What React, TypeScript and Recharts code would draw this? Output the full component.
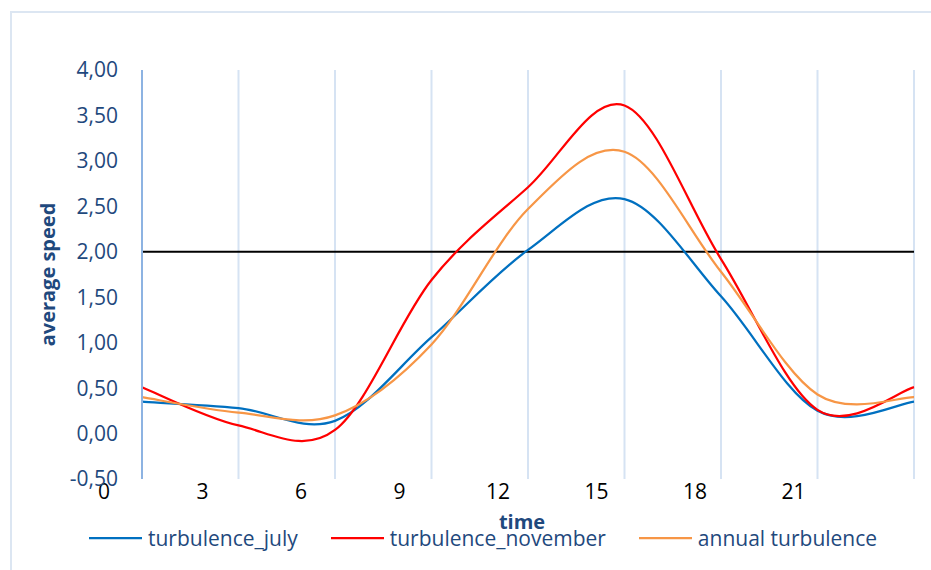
import {
  CartesianGrid,
  Legend,
  Line,
  LineChart,
  ReferenceLine,
  XAxis,
  YAxis
} from 'recharts'

// hours of the day, one reading every 3 hours (24 closes the cycle)
const HOURS = [0, 3, 6, 9, 12, 15, 18, 21, 24]
const TURBULENCE_JULY = [0.35, 0.28, 0.14, 1.06, 2.02, 2.58, 1.51, 0.25, 0.35]
const TURBULENCE_NOVEMBER = [0.51, 0.09, 0.04, 1.69, 2.71, 3.61, 1.92, 0.26, 0.51]
const ANNUAL_TURBULENCE = [0.4, 0.23, 0.2, 0.98, 2.47, 3.1, 1.78, 0.43, 0.4]

const X_TICKS = [0, 3, 6, 9, 12, 15, 18, 21, 24]
const Y_TICKS = [-0.5, 0, 0.5, 1, 1.5, 2, 2.5, 3, 3.5, 4]
const THRESHOLD = 2

const SERIES = [
  { key: 'july', name: 'turbulence_july', color: '#0070c0' },
  { key: 'november', name: 'turbulence_november', color: '#ff0000' },
  { key: 'annual', name: 'annual turbulence', color: '#f79646' }
]

const data = HOURS.map((hour, i) => ({
  hour,
  july: TURBULENCE_JULY[i],
  november: TURBULENCE_NOVEMBER[i],
  annual: ANNUAL_TURBULENCE[i]
}))

const FONT = '"Open Sans", sans-serif'
const NAVY = '#1f497d'

// Excel-style smoothed line (Catmull-Rom through every point)
const excelSmooth = (context: any) => {
  let pts: number[][] = []
  return {
    areaStart() {},
    areaEnd() {},
    lineStart() {
      pts = []
    },
    point(x: number, y: number) {
      pts.push([+x, +y])
    },
    lineEnd() {
      if (!pts.length) return
      context.moveTo(pts[0][0], pts[0][1])
      for (let i = 0; i < pts.length - 1; i++) {
        const p0 = pts[Math.max(i - 1, 0)]
        const p1 = pts[i]
        const p2 = pts[i + 1]
        const p3 = pts[Math.min(i + 2, pts.length - 1)]
        context.bezierCurveTo(
          p1[0] + (p2[0] - p0[0]) / 6,
          p1[1] + (p2[1] - p0[1]) / 6,
          p2[0] - (p3[0] - p1[0]) / 6,
          p2[1] - (p3[1] - p1[1]) / 6,
          p2[0],
          p2[1]
        )
      }
    }
  }
}

const HourTick = ({ x, y, payload, index }: any) => {
  if (payload.value === 24) return <g />
  return (
    <text
      x={x - 38 + 2 * index}
      y={y + 12}
      textAnchor="middle"
      dominantBaseline="central"
      fill="#000"
      fontSize={21}
      fontFamily={FONT}
    >
      {payload.value}
    </text>
  )
}

const LegendContent = () => (
  <div style={{ display: 'flex', alignItems: 'center', height: 36, fontFamily: FONT }}>
    {SERIES.map((s, i) => (
      <div key={s.key} style={{ display: 'flex', alignItems: 'center', marginRight: i < 2 ? 33 : 0 }}>
        <svg width={53} height={6} style={{ marginRight: 6 }}>
          <line x1={0} y1={3} x2={53} y2={3} stroke={s.color} strokeWidth={2.25} />
        </svg>
        <span style={{ color: NAVY, fontSize: 21, lineHeight: '36px' }}>{s.name}</span>
      </div>
    ))}
  </div>
)

export default function App() {
  return (
    <div style={{ position: 'absolute', left: 0, top: 0, width: 931, height: 570, overflow: 'hidden', background: '#fff' }}>
      <div
        style={{
          position: 'absolute',
          left: 10,
          top: 11,
          width: 1000,
          height: 700,
          border: '2px solid #dce6f2'
        }}
      />
      <div style={{ position: 'absolute', left: 0, top: 0 }}>
        <LineChart width={931} height={570} data={data} margin={{ top: 70, right: 17, left: 0, bottom: 14 }}>
          <CartesianGrid horizontal={false} vertical stroke="#d6e3f3" strokeWidth={2} />
          <XAxis
            dataKey="hour"
            type="number"
            domain={[0, 24]}
            ticks={X_TICKS}
            interval={0}
            height={41}
            axisLine={false}
            tickLine={false}
            tickSize={0}
            tickMargin={0}
            tick={<HourTick />}
            label={{
              position: 'bottom',
              content: ({ viewBox }: any) => (
                <text
                  x={viewBox.x + viewBox.width / 2 - 6}
                  y={521}
                  textAnchor="middle"
                  dominantBaseline="central"
                  fill={NAVY}
                  fontSize={20}
                  fontWeight="bold"
                  fontFamily={FONT}
                >
                  time
                </text>
              )
            }}
          />
          <YAxis
            type="number"
            domain={[-0.5, 4]}
            ticks={Y_TICKS}
            interval={0}
            width={142}
            axisLine={{ stroke: '#8db3e2', strokeWidth: 2 }}
            tickLine={false}
            tickSize={0}
            tickMargin={24}
            tickFormatter={(v: number) => v.toFixed(2).replace('.', ',')}
            tick={{ fill: NAVY, fontSize: 21, fontFamily: FONT }}
            label={{
              position: 'insideLeft',
              content: ({ viewBox }: any) => (
                <text
                  x={47}
                  y={viewBox.y + viewBox.height / 2}
                  transform={`rotate(-90, 47, ${viewBox.y + viewBox.height / 2})`}
                  textAnchor="middle"
                  dominantBaseline="central"
                  fill={NAVY}
                  fontSize={20}
                  fontWeight="bold"
                  fontFamily={FONT}
                >
                  average speed
                </text>
              )
            }}
          />
          <ReferenceLine y={THRESHOLD} stroke="#000" strokeWidth={2} />
          {SERIES.map(s => (
            <Line
              key={s.key}
              dataKey={s.key}
              name={s.name}
              type={excelSmooth as any}
              stroke={s.color}
              strokeWidth={2.25}
              dot={false}
              activeDot={false}
              isAnimationActive={false}
            />
          ))}
          <Legend
            verticalAlign="bottom"
            height={36}
            content={<LegendContent />}
            wrapperStyle={{ left: 89, width: 820 }}
          />
        </LineChart>
      </div>
    </div>
  )
}
